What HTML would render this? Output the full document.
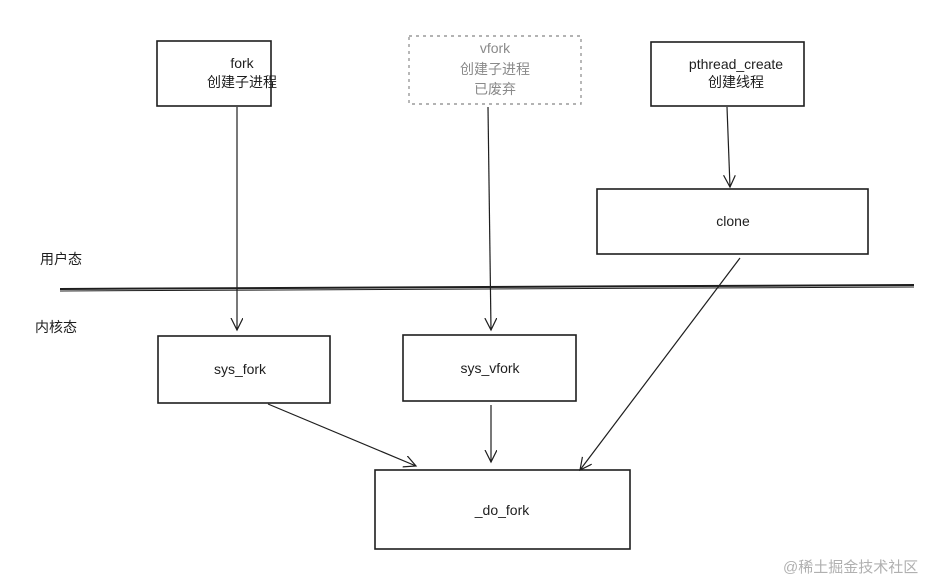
<!DOCTYPE html>
<html><head><meta charset="utf-8"><style>
html,body{margin:0;padding:0;background:#fff;}
svg{display:block;}
text{font-family:"Liberation Sans","Noto Sans CJK SC",sans-serif;font-size:14px;fill:#1e1e1e;}
</style></head><body>
<svg width="948" height="580" viewBox="0 0 948 580" xmlns="http://www.w3.org/2000/svg">
<defs>
<marker id="a" markerWidth="16" markerHeight="16" refX="12" refY="6" orient="auto" markerUnits="userSpaceOnUse">
<path d="M0,0 L12,6 L0,12" fill="none" stroke="#1e1e1e" stroke-width="1.2"/>
</marker>
</defs>
<g fill="none" stroke="#1e1e1e" stroke-width="1.6">
<rect x="157" y="41" width="114" height="65"/>
<rect x="651" y="42" width="153" height="64"/>
<rect x="597" y="189" width="271" height="65"/>
<rect x="158" y="336" width="172" height="67"/>
<rect x="403" y="335" width="173" height="66"/>
<rect x="375" y="470" width="255" height="79"/>
</g>
<rect x="409" y="36" width="172" height="68" fill="none" stroke="#9a9a9a" stroke-width="1.4" stroke-dasharray="3,4"/>
<path d="M60 289 L914 285" stroke="#1e1e1e" stroke-width="2"/>
<path d="M60 291 L914 287" stroke="#1e1e1e" stroke-width="1"/>
<g stroke="#1e1e1e" stroke-width="1.2" fill="none" marker-end="url(#a)">
<path d="M237 107 L237 330"/>
<path d="M488 107 L491 330"/>
<path d="M727 107 L730 187"/>
<path d="M740 258 L580 470"/>
<path d="M268 404 L416 466"/>
<path d="M491 405 L491 462"/>
</g>
<g text-anchor="middle">
<text x="242" y="68">fork</text>
<text x="242" y="87">创建子进程</text>
<text x="495" y="53" style="fill:#8a8a8a">vfork</text>
<text x="495" y="74" style="fill:#8a8a8a">创建子进程</text>
<text x="495" y="94" style="fill:#8a8a8a">已废弃</text>
<text x="736" y="69">pthread_create</text>
<text x="736" y="87">创建线程</text>
<text x="733" y="226">clone</text>
<text x="240" y="374">sys_fork</text>
<text x="490" y="373">sys_vfork</text>
<text x="502" y="515">_do_fork</text>
</g>
<text x="40" y="264">用户态</text>
<text x="35" y="332">内核态</text>
<text x="783" y="572" style="fill:#b0b0b0;font-size:15px">@稀土掘金技术社区</text>
</svg>
</body></html>
